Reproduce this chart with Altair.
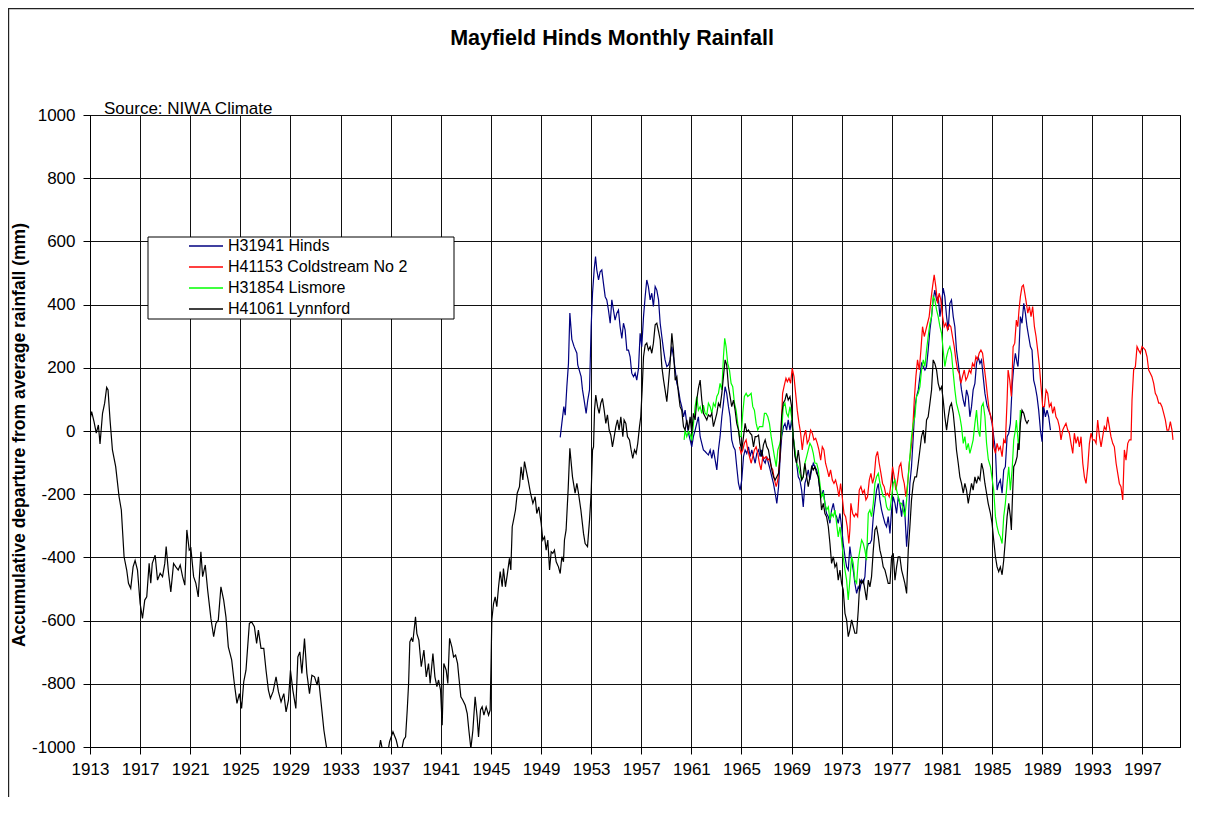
import altair as alt
import pandas as pd

TITLE = "Mayfield Hinds Monthly Rainfall"
SOURCE = "Source: NIWA Climate"
Y_TITLE = "Accumulative departure from average rainfall (mm)"
SERIES = ["H31941 Hinds", "H41153 Coldstream No 2", "H31854 Lismore", "H41061 Lynnford"]
COLORS = ["#000080", "#FF0000", "#00FF00", "#000000"]
X_TICKS = list(range(1913, 1998, 4))
Y_TICKS = list(range(-1000, 1001, 200))

HINDS = [
    (1950.53, -20), (1950.66, 24), (1950.82, 77), (1950.93, 50), (1951.06, 140), (1951.19, 214),
    (1951.3, 373), (1951.46, 290), (1951.64, 267), (1951.86, 246), (1951.93, 209), (1952.2, 172),
    (1952.31, 130), (1952.44, 98), (1952.6, 56), (1952.73, 98), (1952.87, 130), (1953.0, 330),
    (1953.11, 436), (1953.24, 510), (1953.35, 552), (1953.45, 510), (1953.59, 478), (1953.72, 504),
    (1953.85, 510), (1953.98, 468), (1954.12, 425), (1954.25, 415), (1954.38, 383), (1954.52, 341),
    (1954.65, 415), (1954.78, 383), (1954.91, 351), (1955.05, 373), (1955.18, 383), (1955.31, 330),
    (1955.45, 293), (1955.58, 341), (1955.71, 320), (1955.85, 256), (1955.98, 256), (1956.11, 235),
    (1956.24, 183), (1956.38, 172), (1956.51, 183), (1956.64, 161), (1956.78, 198), (1956.91, 309),
    (1957.04, 267), (1957.18, 362), (1957.31, 425), (1957.44, 478), (1957.57, 457), (1957.71, 415),
    (1957.84, 436), (1957.97, 394), (1958.11, 457), (1958.24, 446), (1958.38, 415), (1958.51, 341),
    (1958.64, 299), (1958.78, 256), (1958.9, 225), (1959.04, 204), (1959.17, 209), (1959.3, 225),
    (1959.44, 267), (1959.57, 235), (1959.71, 193), (1959.84, 151), (1959.97, 130), (1960.1, 98),
    (1960.23, 77), (1960.37, 45), (1960.5, 66), (1960.63, 24), (1960.77, -7), (1960.9, -28),
    (1961.03, -50), (1961.16, -18), (1961.3, 3), (1961.43, 24), (1961.56, 45), (1961.7, -18),
    (1961.83, -39), (1961.96, -60), (1962.1, -65), (1962.23, -71), (1962.36, -76), (1962.5, -60),
    (1962.63, -87), (1962.76, -60), (1962.9, -92), (1963.03, -123), (1963.16, -60), (1963.29, -18),
    (1963.43, 45), (1963.56, 88), (1963.69, 140), (1963.82, 119), (1963.96, 77), (1964.09, 45),
    (1964.22, -28), (1964.36, -50), (1964.49, -60), (1964.62, -113), (1964.76, -166), (1964.89, -187),
    (1965.02, -155), (1965.16, -81), (1965.29, -60), (1965.42, -71), (1965.56, -50), (1965.69, -81),
    (1965.82, -60), (1965.96, -81), (1966.09, -102), (1966.22, -71), (1966.36, -60), (1966.49, -81),
    (1966.62, -60), (1966.75, -92), (1966.89, -102), (1967.02, -81), (1967.15, -102), (1967.29, -123),
    (1967.42, -145), (1967.55, -166), (1967.69, -197), (1967.82, -229), (1967.96, -176), (1968.09, -81),
    (1968.21, -18), (1968.35, 14), (1968.47, 24), (1968.6, 3), (1968.73, 35), (1968.87, 3),
    (1969.0, 35), (1969.13, -18), (1969.27, -71), (1969.4, -102), (1969.53, -145), (1969.66, -155),
    (1969.8, -187), (1969.93, -240), (1970.06, -166), (1970.2, -145), (1970.33, -123), (1970.46, -155),
    (1970.6, -123), (1970.73, -102), (1970.86, -113), (1971.0, -123), (1971.13, -145), (1971.26, -187),
    (1971.39, -208), (1971.53, -187), (1971.66, -229), (1971.79, -261), (1971.93, -271), (1972.06, -292),
    (1972.19, -250), (1972.33, -229), (1972.46, -261), (1972.59, -271), (1972.72, -292), (1972.86, -261),
    (1972.99, -303), (1973.12, -356), (1973.26, -398), (1973.39, -430), (1973.52, -440), (1973.65, -366),
    (1973.79, -409), (1973.92, -440), (1974.05, -482), (1974.19, -514), (1974.32, -493), (1974.45, -503),
    (1974.59, -472), (1974.72, -482), (1974.85, -461), (1974.98, -377), (1975.12, -356), (1975.25, -356),
    (1975.38, -345), (1975.52, -271), (1975.65, -229), (1975.78, -187), (1975.92, -166), (1976.05, -218),
    (1976.18, -250), (1976.31, -271), (1976.45, -292), (1976.58, -303), (1976.71, -271), (1976.85, -324),
    (1976.98, -250), (1977.11, -208), (1977.25, -229), (1977.38, -261), (1977.51, -208), (1977.64, -229),
    (1977.78, -271), (1977.91, -218), (1978.04, -261), (1978.18, -366), (1978.31, -292), (1978.44, -166),
    (1978.57, -113), (1978.71, -18), (1978.84, 77), (1978.97, 109), (1979.11, 130), (1979.24, 172),
    (1979.37, 214), (1979.51, 204), (1979.64, 193), (1979.77, 204), (1979.9, 256), (1980.04, 320),
    (1980.17, 362), (1980.3, 415), (1980.43, 446), (1980.57, 415), (1980.7, 425), (1980.84, 362),
    (1980.97, 404), (1981.1, 452), (1981.23, 425), (1981.37, 362), (1981.5, 320), (1981.63, 404),
    (1981.76, 415), (1981.9, 362), (1982.03, 330), (1982.16, 256), (1982.3, 214), (1982.43, 172),
    (1982.56, 130), (1982.7, 98), (1982.83, 77), (1982.96, 130), (1983.1, 109), (1983.23, 45),
    (1983.36, 77), (1983.49, 130), (1983.63, 151), (1983.76, 214), (1983.89, 235), (1984.03, 214),
    (1984.16, 225), (1984.29, 172), (1984.43, 119), (1984.6, 80), (1984.87, 50), (1985.0, 24),
    (1985.13, -18), (1985.27, -60), (1985.4, -187), (1985.53, -166), (1985.66, -155), (1985.8, -197),
    (1985.93, -123), (1986.06, -113), (1986.2, -18), (1986.33, -7), (1986.46, 24), (1986.6, 140),
    (1986.73, 204), (1986.86, 246), (1987.0, 214), (1987.07, 204), (1987.15, 256), (1987.26, 362),
    (1987.39, 341), (1987.53, 404), (1987.66, 373), (1987.79, 330), (1987.92, 299), (1988.06, 267),
    (1988.19, 256), (1988.32, 161), (1988.45, 140), (1988.59, 109), (1988.72, 66), (1988.86, 3),
    (1988.99, -34), (1989.12, 77), (1989.26, 45), (1989.39, 66), (1989.52, 45), (1989.66, 3),
]

COLDSTREAM = [
    (1964.84, -50), (1964.97, -71), (1965.1, -60), (1965.23, -39), (1965.37, -28), (1965.5, -60),
    (1965.64, -81), (1965.77, -102), (1965.9, -81), (1966.03, -60), (1966.17, -50), (1966.3, -71),
    (1966.43, -102), (1966.56, -123), (1966.7, -81), (1966.83, -87), (1966.96, -81), (1967.1, -92),
    (1967.23, -87), (1967.37, -113), (1967.5, -123), (1967.63, -155), (1967.77, -176), (1967.9, -155),
    (1968.03, -102), (1968.17, 3), (1968.28, 119), (1968.39, 140), (1968.55, 167), (1968.66, 156),
    (1968.79, 167), (1968.92, 151), (1969.05, 198), (1969.19, 172), (1969.32, 119), (1969.45, 66),
    (1969.59, 24), (1969.72, -7), (1969.85, -60), (1969.98, -18), (1970.12, 3), (1970.25, -39),
    (1970.38, -28), (1970.52, 3), (1970.65, -7), (1970.78, -28), (1970.92, -23), (1971.05, -39),
    (1971.18, -60), (1971.32, -92), (1971.45, -50), (1971.58, -60), (1971.71, -102), (1971.85, -123),
    (1971.98, -145), (1972.11, -123), (1972.25, -155), (1972.38, -166), (1972.51, -155), (1972.64, -176),
    (1972.78, -208), (1972.91, -166), (1973.04, -208), (1973.18, -261), (1973.31, -271), (1973.44, -303),
    (1973.57, -356), (1973.65, -313), (1973.73, -229), (1973.87, -261), (1974.0, -271), (1974.13, -261),
    (1974.27, -271), (1974.4, -187), (1974.53, -176), (1974.67, -197), (1974.8, -187), (1974.93, -218),
    (1975.06, -208), (1975.2, -155), (1975.33, -134), (1975.46, -166), (1975.59, -145), (1975.73, -81),
    (1975.86, -65), (1975.99, -102), (1976.13, -134), (1976.26, -166), (1976.39, -176), (1976.53, -203),
    (1976.66, -197), (1976.79, -208), (1976.93, -166), (1977.06, -113), (1977.19, -145), (1977.32, -187),
    (1977.46, -155), (1977.59, -113), (1977.72, -102), (1977.86, -145), (1977.99, -166), (1978.12, -208),
    (1978.26, -166), (1978.39, -102), (1978.52, -60), (1978.65, -7), (1978.79, 98), (1978.92, 172),
    (1979.05, 225), (1979.19, 193), (1979.32, 256), (1979.45, 330), (1979.59, 299), (1979.72, 320),
    (1979.85, 341), (1979.98, 362), (1980.12, 415), (1980.25, 457), (1980.38, 494), (1980.51, 457),
    (1980.65, 404), (1980.78, 436), (1980.91, 415), (1981.05, 362), (1981.18, 330), (1981.31, 341),
    (1981.45, 320), (1981.58, 336), (1981.71, 330), (1981.84, 299), (1981.98, 267), (1982.11, 225),
    (1982.25, 193), (1982.38, 183), (1982.51, 151), (1982.64, 172), (1982.78, 193), (1982.91, 161),
    (1983.04, 172), (1983.18, 193), (1983.31, 183), (1983.44, 214), (1983.58, 204), (1983.71, 235),
    (1983.84, 225), (1983.97, 246), (1984.11, 256), (1984.24, 246), (1984.37, 204), (1984.5, 161),
    (1984.64, 109), (1984.77, 66), (1985.03, 24), (1985.13, -50), (1985.27, -71), (1985.4, -39),
    (1985.53, -60), (1985.66, -50), (1985.8, -81), (1985.93, -28), (1986.06, -39), (1986.2, 98),
    (1986.28, 193), (1986.41, 161), (1986.54, 109), (1986.68, 267), (1986.81, 278), (1986.94, 351),
    (1987.05, 330), (1987.15, 383), (1987.26, 425), (1987.39, 457), (1987.5, 462), (1987.61, 436),
    (1987.74, 404), (1987.85, 373), (1987.98, 394), (1988.11, 362), (1988.24, 394), (1988.38, 330),
    (1988.51, 299), (1988.64, 256), (1988.78, 204), (1988.91, 140), (1989.04, 77), (1989.18, 77),
    (1989.31, 130), (1989.44, 119), (1989.57, 77), (1989.71, 88), (1989.84, 56), (1989.97, 77),
    (1990.1, 45), (1990.24, 35), (1990.37, 14), (1990.5, -28), (1990.64, 3), (1990.77, 14),
    (1990.9, 24), (1991.04, 3), (1991.17, -7), (1991.3, -39), (1991.44, -71), (1991.57, -7),
    (1991.7, -39), (1991.84, -18), (1991.97, -50), (1992.1, -18), (1992.24, -102), (1992.37, -145),
    (1992.5, -166), (1992.64, -113), (1992.77, -39), (1992.9, -7), (1993.03, -28), (1993.17, -28),
    (1993.3, -39), (1993.43, 35), (1993.57, -18), (1993.7, -50), (1993.83, -18), (1993.96, 14),
    (1994.1, 3), (1994.23, 45), (1994.36, 14), (1994.49, -18), (1994.63, -39), (1994.76, -50),
    (1994.9, -102), (1995.03, -134), (1995.16, -166), (1995.29, -176), (1995.43, -218), (1995.56, -60),
    (1995.69, -92), (1995.83, -39), (1995.96, -28), (1996.09, -28), (1996.17, 98), (1996.3, 193),
    (1996.44, 204), (1996.57, 267), (1996.7, 256), (1996.84, 246), (1996.97, 267), (1997.1, 262),
    (1997.23, 256), (1997.37, 235), (1997.5, 193), (1997.63, 183), (1997.76, 172), (1997.9, 151),
    (1998.03, 119), (1998.16, 109), (1998.3, 88), (1998.43, 88), (1998.56, 77), (1998.7, 56),
    (1998.83, 35), (1998.96, 3), (1999.1, 3), (1999.23, 30), (1999.36, 3), (1999.44, -28),
]

LISMORE = [
    (1960.42, -28), (1960.5, 3), (1960.63, -18), (1960.77, -2), (1960.9, -10), (1961.03, -30),
    (1961.16, 20), (1961.3, 77), (1961.43, 109), (1961.56, 66), (1961.7, 77), (1961.83, 56),
    (1961.96, 82), (1962.1, 56), (1962.23, 51), (1962.36, 88), (1962.5, 77), (1962.63, 56),
    (1962.76, 88), (1962.9, 77), (1963.03, 109), (1963.16, 119), (1963.29, 151), (1963.43, 130),
    (1963.56, 235), (1963.66, 293), (1963.77, 267), (1963.9, 214), (1964.04, 193), (1964.17, 151),
    (1964.3, 140), (1964.44, 88), (1964.57, 66), (1964.7, 24), (1964.84, -18), (1964.97, -18),
    (1965.1, 56), (1965.23, 109), (1965.37, 119), (1965.5, 109), (1965.64, 114), (1965.77, 119),
    (1965.9, 77), (1966.03, 66), (1966.17, 24), (1966.3, 3), (1966.43, 14), (1966.56, 14),
    (1966.7, 14), (1966.83, 56), (1966.96, 56), (1967.1, 45), (1967.23, 24), (1967.37, -18),
    (1967.5, -50), (1967.63, -81), (1967.77, -113), (1967.9, -60), (1968.07, -39), (1968.2, -7),
    (1968.33, 77), (1968.47, 88), (1968.6, 56), (1968.73, 45), (1968.87, 77), (1969.0, 45),
    (1969.13, -18), (1969.27, -60), (1969.4, -102), (1969.53, -113), (1969.66, -134), (1969.8, -155),
    (1969.93, -145), (1970.06, -102), (1970.2, -81), (1970.33, -60), (1970.46, -39), (1970.6, -50),
    (1970.73, -71), (1970.86, -102), (1971.0, -102), (1971.13, -123), (1971.26, -166), (1971.39, -208),
    (1971.53, -197), (1971.66, -229), (1971.79, -250), (1971.93, -240), (1972.06, -282), (1972.19, -261),
    (1972.33, -271), (1972.46, -250), (1972.59, -292), (1972.72, -335), (1972.86, -303), (1972.99, -345),
    (1973.12, -398), (1973.26, -440), (1973.39, -472), (1973.52, -535), (1973.65, -472), (1973.79, -398),
    (1973.92, -419), (1974.05, -472), (1974.19, -482), (1974.32, -409), (1974.45, -377), (1974.59, -345),
    (1974.72, -356), (1974.85, -377), (1974.98, -409), (1975.12, -261), (1975.25, -250), (1975.38, -271),
    (1975.52, -229), (1975.65, -166), (1975.78, -145), (1975.92, -134), (1976.05, -166), (1976.18, -187),
    (1976.31, -208), (1976.45, -208), (1976.58, -240), (1976.71, -250), (1976.85, -250), (1976.98, -208),
    (1977.11, -166), (1977.25, -155), (1977.38, -187), (1977.51, -208), (1977.64, -229), (1977.78, -229),
    (1977.91, -250), (1978.04, -271), (1978.18, -218), (1978.31, -145), (1978.44, -81), (1978.57, -18),
    (1978.71, 24), (1978.84, 45), (1978.97, 109), (1979.11, 119), (1979.24, 140), (1979.37, 193),
    (1979.51, 225), (1979.64, 204), (1979.77, 256), (1979.9, 299), (1980.04, 341), (1980.17, 362),
    (1980.3, 425), (1980.43, 415), (1980.57, 383), (1980.7, 362), (1980.84, 330), (1980.97, 309),
    (1981.1, 256), (1981.23, 204), (1981.37, 235), (1981.5, 256), (1981.63, 267), (1981.76, 246),
    (1981.9, 183), (1982.03, 130), (1982.16, 88), (1982.3, 66), (1982.43, 45), (1982.56, 14),
    (1982.7, -39), (1982.83, -18), (1982.96, -60), (1983.1, -39), (1983.23, -71), (1983.36, -50),
    (1983.49, -28), (1983.63, 24), (1983.76, 66), (1983.89, 3), (1984.03, -18), (1984.16, 77),
    (1984.29, 88), (1984.43, 45), (1984.56, -39), (1984.7, -90), (1984.87, -113), (1985.13, -187),
    (1985.27, -271), (1985.4, -303), (1985.53, -324), (1985.66, -335), (1985.8, -356), (1985.93, -271),
    (1986.06, -229), (1986.2, -166), (1986.33, -113), (1986.46, -187), (1986.6, -123), (1986.73, -28),
    (1986.86, 3), (1986.94, 35), (1987.05, -18), (1987.13, -60), (1987.26, 66), (1987.34, 56),
]

LYNNFORD = [
    (1913.0, 35), (1913.13, 61), (1913.32, 30), (1913.5, -7), (1913.67, 19), (1913.8, -41),
    (1914.0, 56), (1914.17, 88), (1914.33, 138), (1914.44, 130), (1914.6, 35), (1914.79, -60),
    (1915.05, -113), (1915.32, -208), (1915.5, -250), (1915.72, -398), (1915.93, -440), (1916.07, -482),
    (1916.25, -498), (1916.44, -430), (1916.6, -410), (1916.79, -440), (1917.0, -546), (1917.19, -593),
    (1917.37, -535), (1917.53, -525), (1917.72, -419), (1917.85, -482), (1917.97, -419), (1918.2, -393),
    (1918.39, -472), (1918.6, -450), (1918.79, -461), (1918.97, -419), (1919.08, -366), (1919.27, -450),
    (1919.45, -509), (1919.67, -419), (1919.85, -430), (1920.04, -440), (1920.2, -424), (1920.39, -461),
    (1920.57, -488), (1920.73, -313), (1920.92, -377), (1921.05, -371), (1921.27, -461), (1921.45, -482),
    (1921.64, -525), (1921.85, -382), (1921.99, -461), (1922.2, -424), (1922.39, -503), (1922.65, -593),
    (1922.87, -651), (1923.05, -609), (1923.24, -598), (1923.45, -493), (1923.67, -535), (1923.85, -588),
    (1924.04, -683), (1924.31, -725), (1924.52, -799), (1924.73, -862), (1924.92, -831), (1925.1, -878),
    (1925.27, -794), (1925.45, -757), (1925.72, -609), (1925.9, -604), (1926.12, -619), (1926.3, -672),
    (1926.44, -630), (1926.65, -688), (1926.87, -688), (1927.05, -757), (1927.24, -820), (1927.4, -846),
    (1927.61, -825), (1927.85, -778), (1928.04, -825), (1928.25, -857), (1928.47, -831), (1928.65, -889),
    (1928.84, -852), (1929.0, -757), (1929.19, -820), (1929.43, -878), (1929.59, -715), (1929.75, -699),
    (1929.91, -767), (1930.12, -657), (1930.31, -767), (1930.52, -831), (1930.71, -773), (1930.92, -778),
    (1931.13, -804), (1931.23, -778), (1931.45, -862), (1931.67, -947), (1931.85, -994), (1932.0, -1030),
    (1933.0, -1120), (1934.5, -1150), (1935.5, -1100), (1936.0, -1030), (1936.19, -978), (1936.4, -1020),
    (1936.8, -1010), (1936.91, -983), (1937.18, -952), (1937.44, -978), (1937.63, -1010), (1937.85, -1015),
    (1938.03, -978), (1938.19, -968), (1938.32, -883), (1938.43, -799), (1938.53, -667), (1938.66, -656),
    (1938.77, -667), (1938.98, -588), (1939.09, -641), (1939.25, -662), (1939.44, -746), (1939.65, -693),
    (1939.84, -778), (1940.02, -736), (1940.15, -799), (1940.37, -704), (1940.53, -778), (1940.69, -809),
    (1940.82, -788), (1940.98, -820), (1941.11, -931), (1941.24, -736), (1941.43, -757), (1941.56, -799),
    (1941.7, -656), (1941.88, -683), (1942.02, -715), (1942.18, -709), (1942.34, -736), (1942.44, -778),
    (1942.6, -841), (1942.76, -852), (1942.95, -868), (1943.11, -894), (1943.24, -947), (1943.4, -1005),
    (1943.56, -947), (1943.74, -841), (1943.9, -905), (1944.01, -968), (1944.17, -883), (1944.3, -873),
    (1944.44, -899), (1944.62, -873), (1944.81, -899), (1944.94, -883), (1945.02, -715), (1945.07, -598),
    (1945.21, -546), (1945.34, -525), (1945.47, -556), (1945.61, -493), (1945.74, -445), (1945.9, -493),
    (1946.0, -435), (1946.16, -493), (1946.3, -456), (1946.48, -403), (1946.59, -440), (1946.7, -303),
    (1946.83, -277), (1946.96, -250), (1947.1, -197), (1947.28, -176), (1947.41, -113), (1947.55, -155),
    (1947.68, -97), (1947.81, -123), (1947.97, -155), (1948.16, -197), (1948.35, -229), (1948.53, -208),
    (1948.66, -261), (1948.82, -240), (1949.01, -292), (1949.14, -345), (1949.28, -335), (1949.41, -377),
    (1949.54, -345), (1949.68, -440), (1949.81, -382), (1949.94, -387), (1950.07, -377), (1950.21, -414),
    (1950.39, -430), (1950.53, -451), (1950.66, -398), (1950.79, -414), (1950.87, -345), (1951.0, -313),
    (1951.17, -180), (1951.3, -55), (1951.51, -145), (1951.72, -197), (1951.86, -166), (1951.99, -197),
    (1952.18, -250), (1952.39, -324), (1952.52, -356), (1952.71, -366), (1952.87, -282), (1953.0, -197),
    (1953.11, -60), (1953.19, -50), (1953.27, 66), (1953.37, 114), (1953.51, 77), (1953.64, 56),
    (1953.77, 88), (1953.9, 103), (1954.04, 66), (1954.17, 24), (1954.3, 51), (1954.44, 3),
    (1954.57, -13), (1954.7, -50), (1954.84, -18), (1954.97, 14), (1955.1, 35), (1955.23, 3),
    (1955.37, 45), (1955.53, -18), (1955.63, 35), (1955.77, 24), (1955.9, -18), (1956.06, -28),
    (1956.19, -60), (1956.32, -87), (1956.46, -60), (1956.59, -71), (1956.72, -39), (1956.86, 14),
    (1956.96, 45), (1957.07, 130), (1957.18, 235), (1957.31, 272), (1957.44, 278), (1957.57, 256),
    (1957.71, 267), (1957.84, 246), (1957.97, 278), (1958.11, 336), (1958.24, 341), (1958.38, 315),
    (1958.51, 288), (1958.64, 204), (1958.78, 161), (1958.9, 130), (1959.04, 93), (1959.17, 151),
    (1959.3, 214), (1959.44, 309), (1959.57, 256), (1959.71, 161), (1959.84, 172), (1959.97, 119),
    (1960.1, 77), (1960.23, 66), (1960.37, 14), (1960.5, 3), (1960.63, 35), (1960.77, 3),
    (1960.9, 45), (1961.03, -7), (1961.16, 56), (1961.3, 35), (1961.43, 98), (1961.56, 135),
    (1961.7, 161), (1961.83, 98), (1961.96, 56), (1962.1, 45), (1962.23, 35), (1962.36, 51),
    (1962.5, 45), (1962.63, 56), (1962.76, 14), (1962.9, 35), (1963.03, 56), (1963.16, 88),
    (1963.29, 77), (1963.43, 119), (1963.56, 172), (1963.69, 225), (1963.82, 209), (1963.96, 140),
    (1964.09, 109), (1964.22, 77), (1964.36, 98), (1964.49, 66), (1964.62, 24), (1964.76, 3),
    (1964.89, -39), (1965.02, -60), (1965.16, -18), (1965.29, 24), (1965.42, -2), (1965.56, 3),
    (1965.69, -7), (1965.82, -13), (1965.96, -50), (1966.09, -18), (1966.22, -18), (1966.36, -13),
    (1966.49, -60), (1966.62, -81), (1966.75, -44), (1966.89, -28), (1967.02, -50), (1967.15, -60),
    (1967.29, -92), (1967.42, -123), (1967.55, -145), (1967.69, -155), (1967.82, -145), (1967.96, -134),
    (1968.07, -81), (1968.2, 45), (1968.33, 88), (1968.47, 98), (1968.6, 119), (1968.73, 98),
    (1968.87, 109), (1969.0, 77), (1969.13, -18), (1969.27, -81), (1969.4, -102), (1969.53, -60),
    (1969.66, -102), (1969.8, -155), (1969.93, -145), (1970.06, -102), (1970.2, -145), (1970.33, -176),
    (1970.46, -145), (1970.6, -113), (1970.73, -123), (1970.86, -113), (1971.0, -134), (1971.13, -145),
    (1971.26, -187), (1971.39, -250), (1971.53, -229), (1971.66, -261), (1971.79, -271), (1971.93, -303),
    (1972.06, -356), (1972.19, -419), (1972.33, -398), (1972.46, -430), (1972.59, -419), (1972.72, -472),
    (1972.86, -440), (1972.99, -482), (1973.12, -503), (1973.26, -577), (1973.39, -598), (1973.52, -651),
    (1973.65, -630), (1973.79, -598), (1973.92, -619), (1974.05, -640), (1974.19, -640), (1974.32, -567),
    (1974.45, -472), (1974.59, -482), (1974.72, -472), (1974.85, -503), (1974.98, -535), (1975.12, -472),
    (1975.25, -493), (1975.38, -461), (1975.52, -377), (1975.65, -313), (1975.78, -303), (1975.92, -335),
    (1976.05, -377), (1976.18, -398), (1976.31, -430), (1976.45, -440), (1976.58, -461), (1976.71, -482),
    (1976.85, -482), (1976.98, -398), (1977.11, -387), (1977.25, -472), (1977.38, -430), (1977.51, -398),
    (1977.64, -398), (1977.78, -440), (1977.91, -461), (1978.04, -482), (1978.18, -514), (1978.31, -377),
    (1978.44, -303), (1978.57, -218), (1978.71, -166), (1978.84, -145), (1978.97, -145), (1979.11, -102),
    (1979.24, -60), (1979.37, -18), (1979.51, 3), (1979.64, -39), (1979.77, 35), (1979.9, 45),
    (1980.04, 88), (1980.17, 130), (1980.3, 225), (1980.43, 214), (1980.57, 193), (1980.7, 151),
    (1980.84, 130), (1980.97, 140), (1981.1, 98), (1981.23, 45), (1981.37, 3), (1981.5, 45),
    (1981.63, 77), (1981.76, 88), (1981.9, 56), (1982.03, 3), (1982.16, -60), (1982.3, -102),
    (1982.43, -145), (1982.56, -166), (1982.7, -197), (1982.83, -166), (1982.96, -187), (1983.1, -229),
    (1983.23, -197), (1983.36, -166), (1983.49, -187), (1983.63, -145), (1983.76, -166), (1983.89, -145),
    (1984.03, -155), (1984.16, -102), (1984.29, -123), (1984.43, -166), (1984.56, -197), (1984.69, -229),
    (1984.87, -261), (1985.0, -292), (1985.13, -345), (1985.27, -398), (1985.4, -430), (1985.53, -445),
    (1985.66, -430), (1985.8, -455), (1985.93, -409), (1986.06, -345), (1986.2, -271), (1986.33, -229),
    (1986.46, -271), (1986.54, -313), (1986.62, -218), (1986.73, -113), (1986.86, -102), (1987.0, -81),
    (1987.07, -39), (1987.15, -60), (1987.26, 24), (1987.39, 66), (1987.53, 56), (1987.66, 35),
    (1987.79, 24), (1987.92, 35),
]

FONT = "Liberation Sans"

rows = []
for name, pts in zip(SERIES, [HINDS, COLDSTREAM, LISMORE, LYNNFORD]):
    for yr, mm in pts:
        rows.append({"series": name, "year": yr, "mm": mm})
df = pd.DataFrame(rows)

color_scale = alt.Scale(domain=SERIES, range=COLORS)

lines = alt.Chart(df).mark_line(strokeWidth=1.2, clip=True).encode(
    x=alt.X("year:Q",
            scale=alt.Scale(domain=[1913, 2000], nice=False, zero=False),
            axis=alt.Axis(values=X_TICKS, labelExpr="datum.value + ''", title=None, grid=True,
                          tickSize=7, labelPadding=7, labelFlush=False,
                          labelOverlap=False)),
    y=alt.Y("mm:Q",
            scale=alt.Scale(domain=[-1000, 1000], nice=False, zero=False),
            axis=alt.Axis(values=Y_TICKS, labelExpr="datum.value + ''", title=None,
                          grid=True, tickSize=7, labelPadding=8)),
    color=alt.Color("series:N", scale=color_scale, legend=None),
    order=alt.Order("year:Q"),
)

one = pd.DataFrame({"k": [0]})

# outer chart-area frame (only its top and left edges fall inside the page)
frame = alt.Chart(one).mark_rect(fill="white", fillOpacity=0, stroke="#222222",
                                 strokeWidth=1.2).encode(
    x=alt.value(-81.4), x2=alt.value(1300), y=alt.value(-106.4), y2=alt.value(900))

# legend box and entries
legend_box = alt.Chart(one).mark_rect(fill="white", stroke="black", strokeWidth=1).encode(
    x=alt.value(58), x2=alt.value(364), y=alt.value(122), y2=alt.value(204))
legend_layers = [legend_box]
for i, (name, col) in enumerate(zip(SERIES, COLORS)):
    yy = 131 + 21 * i
    legend_layers.append(
        alt.Chart(one).mark_rule(color=col, strokeWidth=1.3).encode(
            x=alt.value(99), x2=alt.value(133), y=alt.value(yy), y2=alt.value(yy)))
    legend_layers.append(
        alt.Chart(pd.DataFrame({"t": [name]})).mark_text(
            align="left", baseline="middle", font=FONT, fontSize=16, color="black").encode(
            text="t:N", x=alt.value(138), y=alt.value(yy)))

title = alt.Chart(pd.DataFrame({"t": [TITLE]})).mark_text(
    align="center", baseline="alphabetic", font=FONT, fontSize=21.5, fontWeight="bold",
    color="black").encode(text="t:N", x=alt.value(522), y=alt.value(-70))

source = alt.Chart(pd.DataFrame({"t": [SOURCE]})).mark_text(
    align="left", baseline="alphabetic", font=FONT, fontSize=17, color="black").encode(
    text="t:N", x=alt.value(14), y=alt.value(-1))

ytitle = alt.Chart(pd.DataFrame({"t": [Y_TITLE]})).mark_text(
    align="center", baseline="middle", angle=270, font=FONT, fontSize=17.5,
    fontWeight="bold", color="black").encode(text="t:N", x=alt.value(-70), y=alt.value(320))

chart = alt.layer(frame, lines, *legend_layers, title, source, ytitle).properties(
    width=1090, height=632,
    autosize=alt.AutoSizeParams(type="none"),
    padding={"left": 82, "top": 107, "right": 14, "bottom": 50},
    background="white",
).configure_view(
    stroke="black", strokeWidth=1
).configure_axis(
    gridColor="#111111", gridOpacity=1, gridWidth=1,
    domainColor="black", domainWidth=1,
    tickColor="black", tickWidth=1,
    labelColor="black", labelFont=FONT, labelFontSize=17,
)

chart.save("out.html", embed_options={"renderer": "svg", "actions": False})
